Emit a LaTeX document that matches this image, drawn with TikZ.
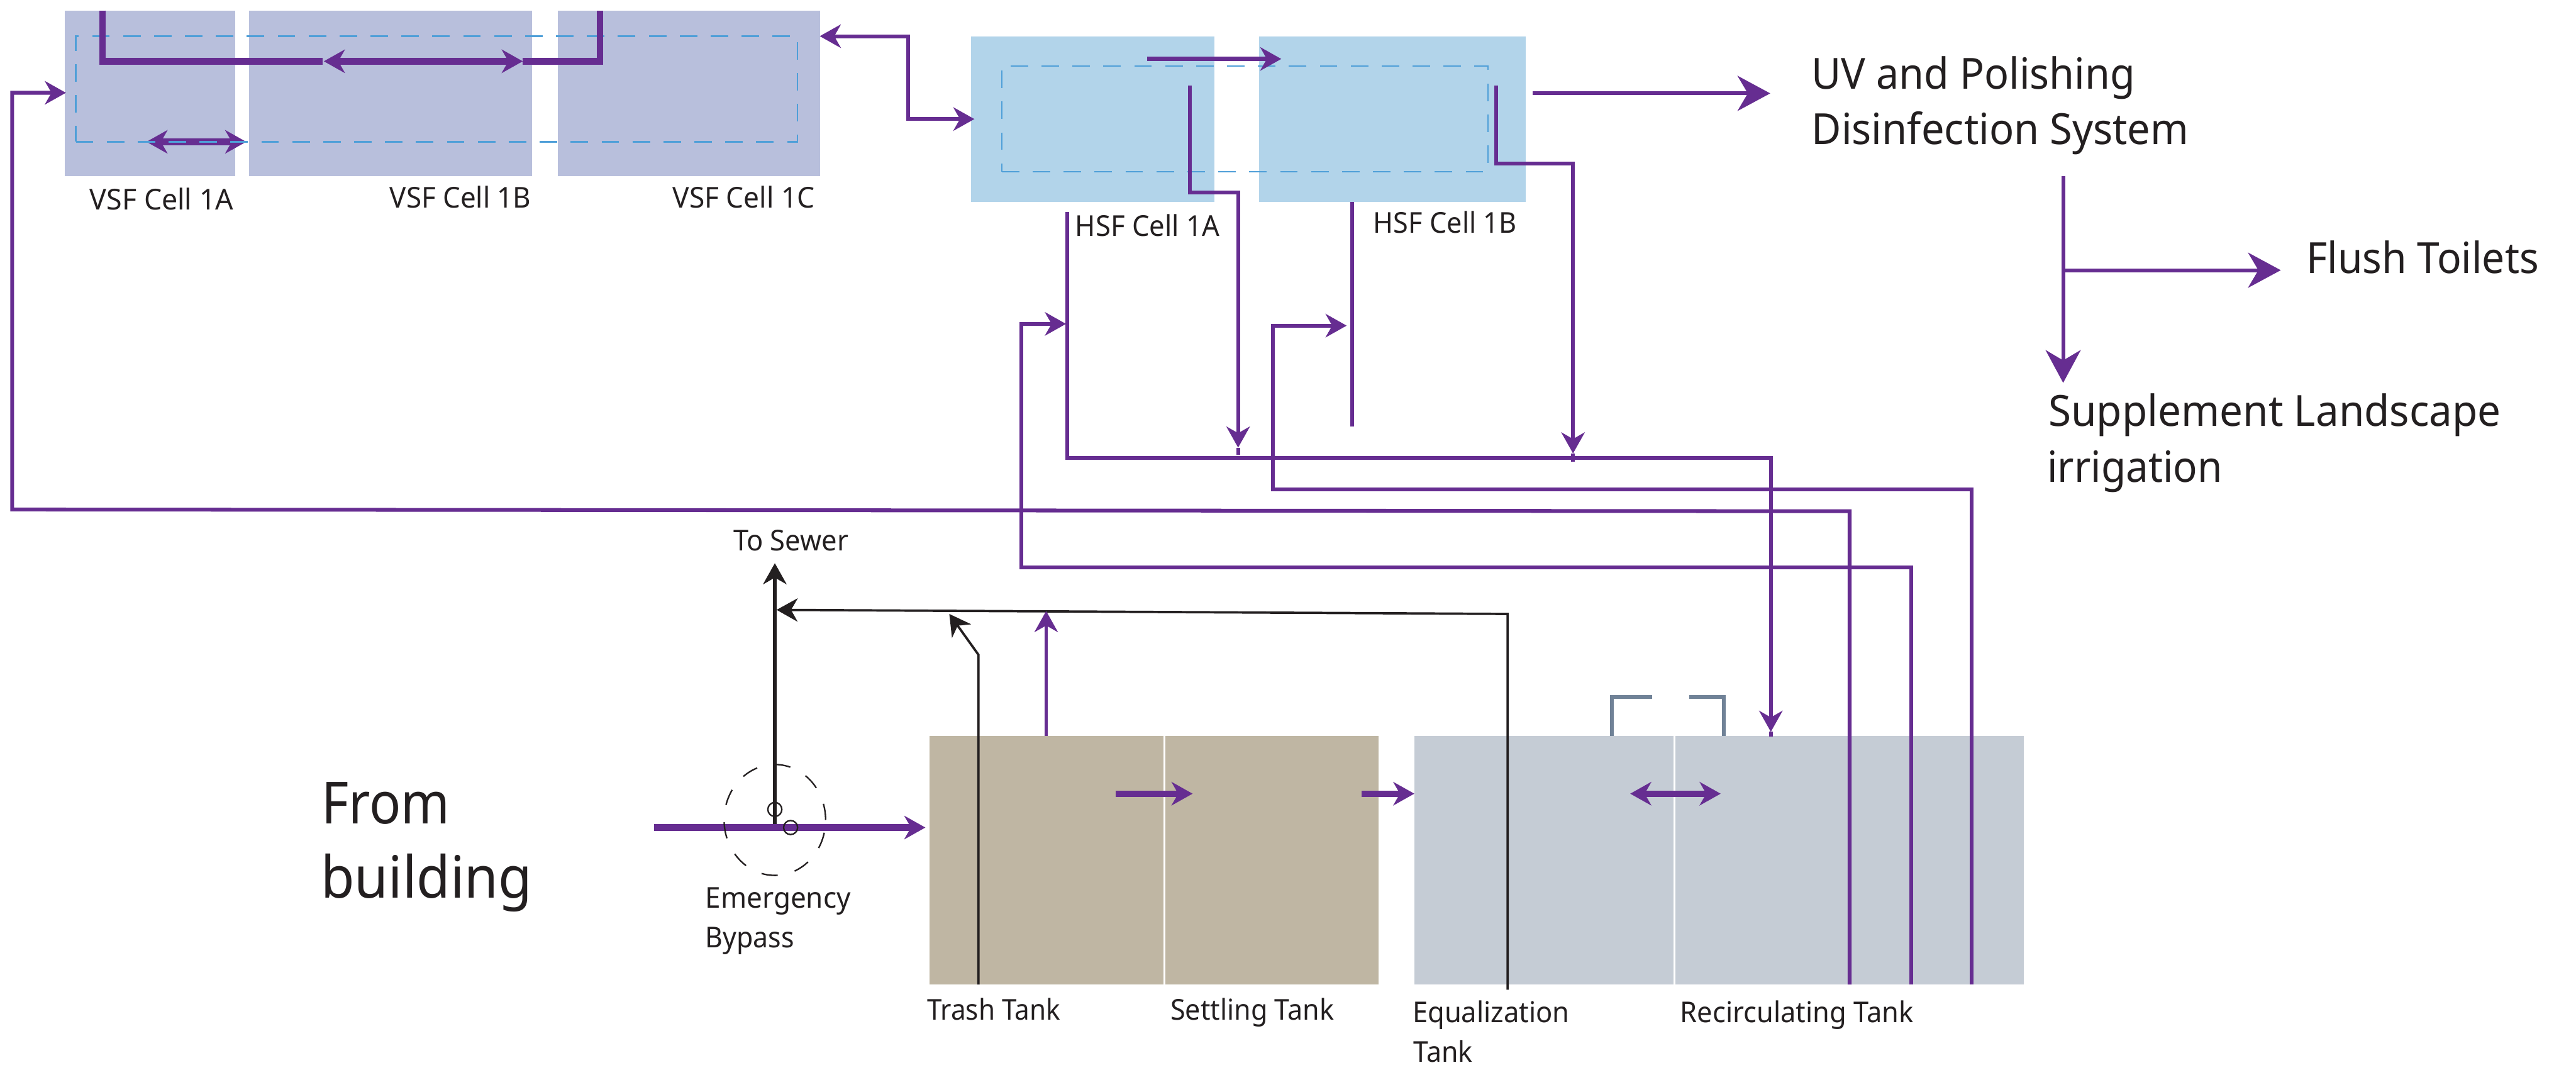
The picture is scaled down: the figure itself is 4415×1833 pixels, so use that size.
\documentclass[tikz,border=0pt]{standalone}
\usepackage{fontspec}
\usepackage{graphicx}
\setmainfont{Noto Sans}
\usetikzlibrary{arrows.meta,shapes.geometric}
\definecolor{purp}{HTML}{662D91}
\definecolor{ink}{HTML}{231F20}
\definecolor{vsfc}{HTML}{B8BFDC}
\definecolor{hsfc}{HTML}{B2D4EA}
\definecolor{tanc}{HTML}{BFB6A3}
\definecolor{grayc}{HTML}{C5CCD5}
\definecolor{dashc}{HTML}{4F9FD8}
\definecolor{brk}{HTML}{708297}
\def\px{0.01cm}
\newsavebox\fitbox
\newcommand\fitw[2]{\sbox\fitbox{#2}\pgfmathsetmacro\fitr{(#1*0.284528)/\wd\fitbox}\scalebox{\fitr}[1]{\usebox\fitbox}}
\tikzset{
  cell/.style={rectangle,draw=none,inner sep=0pt,outer sep=0pt},
  loopbox/.style={rectangle,draw=dashc,line width=2.5*\px,dash pattern=on 30*\px off 23*\px,inner sep=0pt,outer sep=0pt},
  lbl/.style={anchor=base west,inner sep=0pt,outer sep=0pt,text=ink},
  small/.style={lbl,font=\fontsize{14pt}{16pt}\selectfont},
  large/.style={lbl,font=\fontsize{20.9pt}{24pt}\selectfont},
  huge/.style={lbl,font=\fontsize{28.3pt}{32pt}\selectfont},
  pipe/.style={draw=purp,line width=6.5*\px,miter limit=10},
  fat/.style={draw=purp,line width=11*\px,miter limit=10},
  blk/.style={draw=ink,line width=4*\px,miter limit=10},
  brack/.style={draw=brk,line width=6.5*\px},
  head/.tip={Stealth[length=10.24pt,width=11.38pt,inset=3.2pt]},
  bighead/.tip={Stealth[length=15.93pt,width=17.07pt,inset=5pt]},
}
\begin{document}
\begin{tikzpicture}[x=0.01cm,y=-0.01cm]
\useasboundingbox (0,0) rectangle (4415,1833);
% cells
\node[cell,fill=vsfc,minimum width=292*\px,minimum height=284*\px] (vsfA) at (257,160) {};
\node[cell,fill=vsfc,minimum width=485*\px,minimum height=284*\px] (vsfB) at (669.5,160) {};
\node[cell,fill=vsfc,minimum width=449*\px,minimum height=284*\px] (vsfC) at (1180.5,160) {};
\node[cell,fill=hsfc,minimum width=417*\px,minimum height=284*\px] (hsfA) at (1872.5,204) {};
\node[cell,fill=hsfc,minimum width=457*\px,minimum height=284*\px] (hsfB) at (2386.5,204) {};
\node[cell,fill=tanc,minimum width=401*\px,minimum height=426*\px] (trash) at (1793.5,1474) {};
\node[cell,fill=tanc,minimum width=366*\px,minimum height=426*\px] (settle) at (2180,1474) {};
\node[cell,fill=grayc,minimum width=444*\px,minimum height=426*\px] (equal) at (2646,1474) {};
\node[cell,fill=grayc,minimum width=598*\px,minimum height=426*\px] (recirc) at (3170,1474) {};
% named points
\coordinate (a1) at (251,243); \coordinate (a2) at (422,243);
\coordinate (t1) at (176,18); \coordinate (t2) at (176,105); \coordinate (t3) at (553,105);
\coordinate (t4) at (555,105); \coordinate (t5) at (896,105);
\coordinate (t6) at (896,105); \coordinate (t7) at (1028,105); \coordinate (t8) at (1028,18);
\coordinate (v1) at (3170,1687); \coordinate (v2) at (3170,876); \coordinate (v3) at (21,873); \coordinate (v4) at (21,159); \coordinate (v5) at (113,159);
\coordinate (x1) at (1405,62); \coordinate (x2) at (1556,62); \coordinate (x3) at (1556,204); \coordinate (x4) at (1670,204);
\coordinate (h1) at (1966,101); \coordinate (h2) at (2196,101);
\coordinate (l1) at (2039,147); \coordinate (l2) at (2039,330); \coordinate (l3) at (2122,330); \coordinate (l4) at (2122,767); \coordinate (l5) at (2122,779);
\coordinate (m1) at (2564,147); \coordinate (m2) at (2564,280); \coordinate (m3) at (2696,280); \coordinate (m4) at (2696,777); \coordinate (m5) at (2696,791);
\coordinate (n1) at (1829,363); \coordinate (n2) at (1829,785); \coordinate (n3) at (3035,785); \coordinate (n4) at (3035,1254); \coordinate (n5) at (3035,1262);
\coordinate (o1) at (2317,346); \coordinate (o2) at (2317,731);
\coordinate (p1) at (3379,1687); \coordinate (p2) at (3379,839); \coordinate (p3) at (2182,839); \coordinate (p4) at (2182,558); \coordinate (p5) at (2308,558);
\coordinate (q1) at (3276,1687); \coordinate (q2) at (3276,972); \coordinate (q3) at (1750,972); \coordinate (q4) at (1750,555); \coordinate (q5) at (1827,555);
\coordinate (u1) at (2627,160); \coordinate (u2) at (3034,160);
\coordinate (f1) at (3536,302); \coordinate (f2) at (3536,656); \coordinate (f3) at (3536,463); \coordinate (f4) at (3909,463);
\coordinate (b1) at (1677,1687); \coordinate (b2) at (1677,1122); \coordinate (b3) at (1627,1052);
\coordinate (c1) at (2584,1696); \coordinate (c2) at (2584,1052); \coordinate (c3) at (1331,1045);
\coordinate (s1) at (1328,1417); \coordinate (s2) at (1328,965);
\coordinate (w1) at (1793,1261); \coordinate (w2) at (1793,1047);
\coordinate (i1) at (1121,1418); \coordinate (i2) at (1586,1418);
\coordinate (j1) at (1912,1360); \coordinate (j2) at (2044,1360);
\coordinate (j3) at (2334,1360); \coordinate (j4) at (2424,1360);
\coordinate (j5) at (2794,1360); \coordinate (j6) at (2949,1360);
\coordinate (k1) at (2763,1261); \coordinate (k2) at (2763,1194); \coordinate (k3) at (2832,1194);
\coordinate (k4) at (2895,1194); \coordinate (k5) at (2954,1194); \coordinate (k6) at (2954,1261);
% arrow under the dashed loop
\draw[fat,{head}-{head}] (a1) -- (a2);
% dashed loops
\node[loopbox,minimum width=1237*\px,minimum height=181*\px] (vsfloop) at (748.5,152.5) {};
\node[loopbox,minimum width=833*\px,minimum height=181*\px] (hsfloop) at (2133.5,203.5) {};
% VSF pipes
\draw[fat] (t1) -- (t2) -- (t3);
\draw[fat,{head}-{head}] (t4) -- (t5);
\draw[fat] (t6) -- (t7) -- (t8);
% HSF pipes
\draw[pipe,-{head}] (v1) -- (v2) -- (v3) -- (v4) -- (v5);
\draw[pipe,{head}-{head}] (x1) -- (x2) -- (x3) -- (x4);
\draw[pipe,line width=7.5*\px,-{head}] (h1) -- (h2);
\draw[pipe,-{head}] (l1) -- (l2) -- (l3) -- (l4);
\draw[pipe] (l4) -- (l5);
\draw[pipe,-{head}] (m1) -- (m2) -- (m3) -- (m4);
\draw[pipe] (m4) -- (m5);
\draw[pipe,-{head}] (n1) -- (n2) -- (n3) -- (n4);
\draw[pipe] (n4) -- (n5);
\draw[pipe] (o1) -- (o2);
\draw[pipe,-{head}] (p1) -- (p2) -- (p3) -- (p4) -- (p5);
\draw[pipe,-{head}] (q1) -- (q2) -- (q3) -- (q4) -- (q5);
\draw[pipe,-{bighead}] (u1) -- (u2);
\draw[pipe,-{bighead}] (f1) -- (f2);
\draw[pipe,-{bighead}] (f3) -- (f4);
% bottom pipes
\draw[blk,-{head}] (b1) -- (b2) -- (b3);
\draw[blk,-{head}] (c1) -- (c2) -- (c3);
\draw[blk,line width=6*\px,-{head}] (s1) -- (s2);
\draw[pipe,line width=5.5*\px,-{head}] (w1) -- (w2);
\draw[fat,-{head}] (i1) -- (i2);
\draw[fat,-{head}] (j1) -- (j2);
\draw[fat,-{head}] (j3) -- (j4);
\draw[fat,{head}-{head}] (j5) -- (j6);
\draw[brack] (k1) -- (k2) -- (k3);
\draw[brack] (k4) -- (k5) -- (k6);
% bypass
\node[ellipse,draw=ink,line width=2.5*\px,dash pattern=on 28*\px off 30*\px,inner sep=0pt,outer sep=0pt,minimum width=174*\px,minimum height=190*\px] (bypass) at (1328,1405) {};
\node[ellipse,draw=ink,line width=2.5*\px,inner sep=0pt,outer sep=0pt,minimum width=24*\px,minimum height=24*\px] (valveA) at (1328,1387) {};
\node[ellipse,draw=ink,line width=2.5*\px,inner sep=0pt,outer sep=0pt,minimum width=24*\px,minimum height=24*\px] (valveB) at (1355,1418) {};
% labels
\node[small] (lvsfA) at (154,360) {\fitw{246}{VSF Cell 1A}};
\node[small] (lvsfB) at (668,356) {\fitw{242}{VSF Cell 1B}};
\node[small] (lvsfC) at (1153,356) {\fitw{243}{VSF Cell 1C}};
\node[small] (lhsfA) at (1843,405) {\fitw{247}{HSF Cell 1A}};
\node[small] (lhsfB) at (2354,399) {\fitw{245}{HSF Cell 1B}};
\node[small] (lsewer) at (1257,944) {\fitw{197}{To Sewer}};
\node[small] (lem) at (1209,1556) {\fitw{249}{Emergency}};
\node[small] (lby) at (1209,1624) {\fitw{152}{Bypass}};
\node[small] (ltrash) at (1589,1748) {\fitw{228}{Trash Tank}};
\node[small] (lsettle) at (2006,1748) {\fitw{280}{Settling Tank}};
\node[small] (leq) at (2421,1752) {\fitw{269}{Equalization}};
\node[small] (ltank) at (2423,1820) {\fitw{101}{Tank}};
\node[small] (lrec) at (2880,1752) {\fitw{399}{Recirculating Tank}};
\node[large] (luv) at (3105,152) {\fitw{554}{UV and Polishing}};
\node[large] (ldis) at (3105,247) {\fitw{646}{Disinfection System}};
\node[large] (lflush) at (3953,468) {\fitw{398}{Flush Toilets}};
\node[large] (lsup) at (3511,730) {\fitw{775}{Supplement Landscape}};
\node[large] (lirr) at (3509,826) {\fitw{300}{irrigation}};
\node[huge] (lfrom) at (551,1412) {\fitw{220}{From}};
\node[huge] (lbuild) at (550,1539) {\fitw{362}{building}};
\end{tikzpicture}
\end{document}
